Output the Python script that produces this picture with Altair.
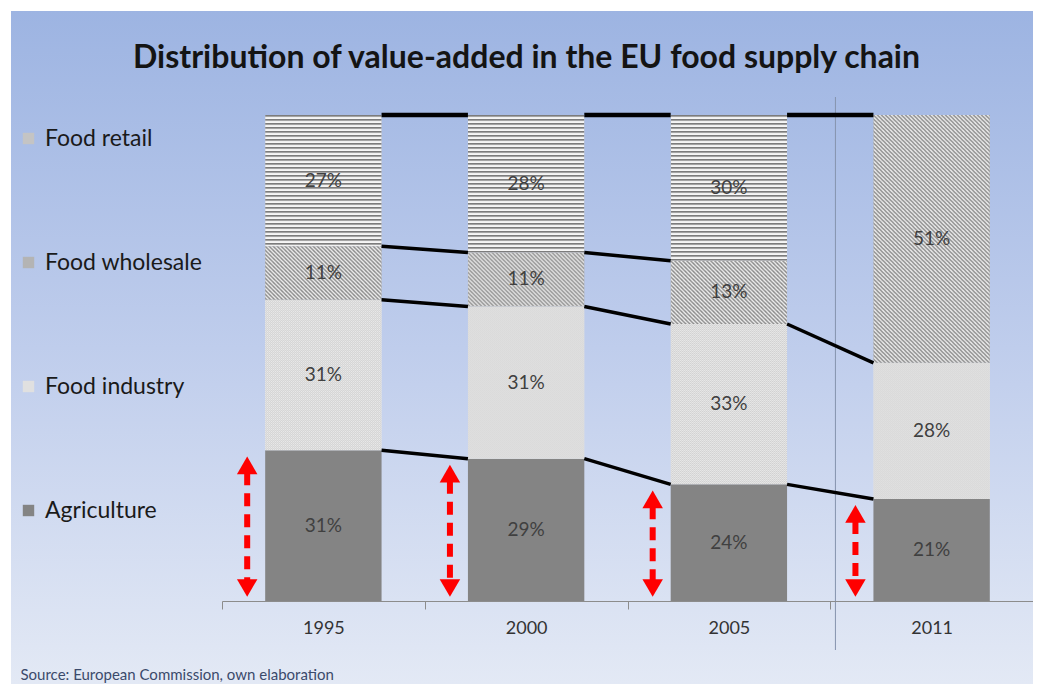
import base64
import altair as alt
import pandas as pd

# ---------------- data ----------------
years = ["1995", "2000", "2005", "2011"]
series = ["Agriculture", "Food industry", "Food wholesale", "Food retail"]
agriculture = [31, 29, 24, 21]
food_industry = [31, 31, 33, 28]
food_wholesale = [11, 11, 13, 51]
food_retail = [27, 28, 30, None]
legend_order = ["Food retail", "Food wholesale", "Food industry", "Agriculture"]
title_text = "Distribution of value-added in the EU food supply chain"
source_text = "Source:  European Commission, own elaboration"

values = {
    "Agriculture": agriculture,
    "Food industry": food_industry,
    "Food wholesale": food_wholesale,
    "Food retail": food_retail,
}

# ---------------- pattern textures (style only) ----------------
def svg_uri(tile, w, h, bgc):
    svg = ("<svg xmlns='http://www.w3.org/2000/svg' width='100%' height='100%'>"
           f"<defs><pattern id='p' width='{w}' height='{h}' patternUnits='userSpaceOnUse'>"
           f"<rect width='{w}' height='{h}' fill='{bgc}'/>{tile}</pattern></defs>"
           "<rect width='100%' height='100%' fill='url(#p)'/></svg>")
    return "data:image/svg+xml;base64," + base64.b64encode(svg.encode()).decode()


patterns = {
    "Food retail": svg_uri("<rect y='0' width='4' height='1.7' fill='#7c7c7c'/>", 4, 4, "#f6f6f6"),
    "Food wholesale": svg_uri("<path d='M-1,-1 L5,5 M-1,3 L1,5 M3,-1 L5,1' stroke='#888888' "
                              "stroke-width='1.3'/>", 4, 4, "#eeeeee"),
    "Food industry": svg_uri("<rect x='0' y='0' width='1' height='1' fill='#c4c4c4'/>"
                             "<rect x='1' y='1' width='1' height='1' fill='#c4c4c4'/>", 2, 2,
                             "#f4f4f4"),
}

rows = []
for i, yr in enumerate(years):
    total = sum(values[s][i] for s in series if values[s][i] is not None)
    cum = 0
    for s in series:
        v = values[s][i]
        if v is None:
            continue
        rows.append(dict(year=yr, series=s, value=v, label=f"{v}%",
                         y0=cum / total, y1=(cum + v) / total,
                         mid=(cum + v / 2) / total, tex=patterns.get(s, "")))
        cum += v
bars = pd.DataFrame(rows)

conn = []
for i in range(len(years) - 1):
    a, b = years[i], years[i + 1]
    ba = bars[bars.year == a].set_index("series")
    bb = bars[bars.year == b].set_index("series")
    for s in series:
        if s in ba.index and s in bb.index and ba.loc[s, "y1"] < 0.999 and bb.loc[s, "y1"] < 0.999:
            conn.append(dict(frm=a, to=b, ya=ba.loc[s, "y1"], yb=bb.loc[s, "y1"], w=3.5))
    conn.append(dict(frm=a, to=b, ya=1.0, yb=1.0, w=4.5))
conn = pd.DataFrame(conn)

arrows = bars[bars.series == "Agriculture"][["year", "y1"]].copy()
arrows["zero"] = 0.0

separator = pd.DataFrame({"year": ["2011"]})
bg = pd.DataFrame({"k": [0]})

# ---------------- styles ----------------
FONT = "Lato"
W, H = 811, 486

bg_grad = alt.LinearGradient(gradient="linear", x1=0, y1=0, x2=0, y2=1,
                             stops=[alt.GradientStop(color="#9db4e2", offset=0),
                                    alt.GradientStop(color="#bfcdec", offset=0.5),
                                    alt.GradientStop(color="#e3e9f5", offset=1)])

xscale = alt.Scale(domain=years, paddingInner=0.426, paddingOuter=0.213)
yscale = alt.Scale(domain=[0, 1])
step = W / len(years)

xaxis = alt.Axis(title=source_text, titleX=-202, titleY=78, titleAlign="left",
                 titleBaseline="alphabetic", titleFont=FONT, titleFontSize=15,
                 titleFontWeight="normal", titleColor="#3b4a6b",
                 labelAngle=0, labelFont=FONT, labelFontSize=18, labelColor="#333333",
                 labelPadding=10, tickSize=8, tickColor="#8c8c8c", domainColor="#8c8c8c",
                 tickOffset=-step / 2, labelOffset=step / 2, grid=False, zindex=1)


def X(field="year", **kw):
    return alt.X(f"{field}:N", scale=xscale, axis=xaxis, **kw)


def Y(field):
    return alt.Y(f"{field}:Q", scale=yscale, axis=None)


# ---------------- layers ----------------
background = alt.Chart(bg).mark_rect(fill=bg_grad).encode(
    x=alt.value(-211), x2=alt.value(W), y=alt.value(-104), y2=alt.value(H + 83))

base = alt.Chart(bars).mark_bar().encode(
    x=X(),
    y=Y("y0"),
    y2="y1:Q",
    color=alt.Color("series:N",
                    scale=alt.Scale(domain=legend_order,
                                    range=["#c4c4c4", "#b4b4b4", "#e0e0e0", "#848484"]),
                    legend=alt.Legend(title=None, orient="none", legendX=-205, legendY=12,
                                      direction="vertical", symbolType="square",
                                      symbolSize=130, symbolStrokeWidth=0, symbolOpacity=1,
                                      labelFont=FONT, labelFontSize=23, labelColor="#1a1a1a",
                                      labelOffset=5, rowPadding=100, zindex=1)),
)

textures = alt.Chart(bars).transform_filter(alt.datum.tex != "").mark_image(
    aspect=False).encode(
    x=X(), y=Y("y0"), y2="y1:Q", url="tex:N")

connectors = alt.Chart(conn).mark_rule(color="black").encode(
    x=X("frm", bandPosition=1),
    x2=alt.X2("to:N", bandPosition=0),
    y=Y("ya"),
    y2="yb:Q",
    strokeWidth=alt.StrokeWidth("w:Q", scale=None, legend=None))

labels = alt.Chart(bars).mark_text(font=FONT, fontSize=19, color="#404040").encode(
    x=X(), y=Y("mid"), text="label:N")

shaft = alt.Chart(arrows).mark_rule(color="#ff0000", strokeWidth=6, strokeDash=[13, 8],
                                    xOffset=-18, yOffset=22, y2Offset=-20).encode(
    x=X(bandPosition=0), y=Y("y1"), y2="zero:Q")

head_up = alt.Chart(arrows).mark_point(shape="triangle-up", size=420, filled=True,
                                       color="#ff0000", opacity=1, xOffset=-18,
                                       yOffset=15).encode(
    x=X(bandPosition=0), y=Y("y1"))

head_down = alt.Chart(arrows).mark_point(shape="triangle-down", size=420, filled=True,
                                         color="#ff0000", opacity=1, xOffset=-18,
                                         yOffset=-13).encode(
    x=X(bandPosition=0), y=Y("zero"))

sep = alt.Chart(separator).mark_rule(color="#8593ad", strokeWidth=1, xOffset=-38).encode(
    x=X(bandPosition=0),
    y=alt.value(-18), y2=alt.value(H + 49))

chart = alt.layer(background, sep, base, textures, connectors,
                  labels, shaft, head_up, head_down).properties(
    width=W, height=H,
    title=alt.TitleParams(title_text, anchor="start", frame="group", dx=-89, offset=-89,
                          baseline="alphabetic", font=FONT, fontSize=32,
                          fontWeight="bold", color="#141414", zindex=1),
    autosize=alt.AutoSizeParams(type="none"),
    padding={"left": 214, "top": 107, "right": 0, "bottom": 83},
    background="white",
).configure_view(stroke=None)

chart.save("out.html", embed_options={"renderer": "svg", "actions": False})
